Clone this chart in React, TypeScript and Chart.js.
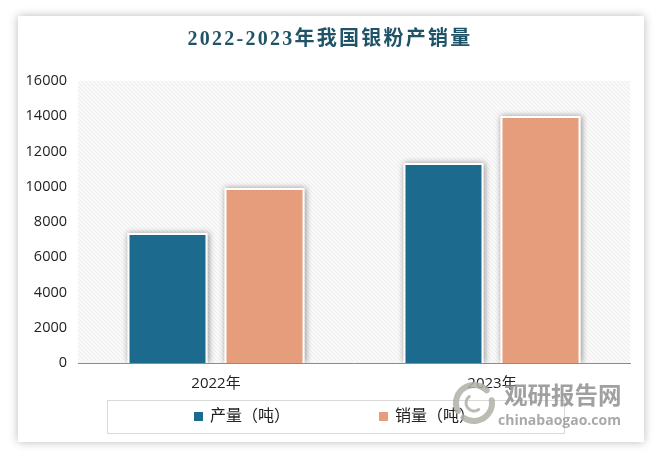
import { useEffect, useRef } from "react"
import { Chart, registerables, type Plugin } from "chart.js"

Chart.register(...registerables)

const years = ["2022年", "2023年"]
const output = [7380, 11350]
const sales = [9930, 14010]
const seriesNames = ["产量（吨）", "销量（吨）"]
const seriesColors = ["#1c6b8f", "#e59d7c"]
const titleText = "2022-2023年我国银粉产销量"
const FONT = '"Open Sans", "Noto Sans CJK SC", sans-serif'

const makeHatch = (ctx: CanvasRenderingContext2D) => {
  const c = document.createElement("canvas")
  c.width = 4
  c.height = 4
  const p = c.getContext("2d")!
  p.fillStyle = "#f9f9f9"
  p.fillRect(0, 0, 4, 4)
  p.strokeStyle = "#eeeeee"
  p.lineWidth = 1
  p.beginPath()
  p.moveTo(0, 0)
  p.lineTo(4, 4)
  p.moveTo(-2, 2)
  p.lineTo(2, 6)
  p.moveTo(2, -2)
  p.lineTo(6, 2)
  p.stroke()
  return ctx.createPattern(c, "repeat")!
}

// card, hatched plot background and the bar shadows
const backdrop: Plugin<"bar"> = {
  id: "backdrop",
  beforeDraw(chart) {
    const { ctx, chartArea: a } = chart
    ctx.save()
    ctx.fillStyle = "#fff"
    ctx.fillRect(0, 0, chart.width, chart.height)
    ctx.shadowColor = "rgba(0,0,0,0.28)"
    ctx.shadowBlur = 9
    ctx.fillRect(18, 16, 626, 426)
    ctx.shadowColor = "transparent"
    ctx.fillStyle = makeHatch(ctx)
    ctx.fillRect(a.left, a.top, a.right - a.left, a.bottom - a.top)
    ctx.restore()
  },
  beforeDatasetsDraw(chart) {
    // shadow goes under the bars, otherwise the fill darkens the white border
    const { ctx, chartArea: a } = chart
    ctx.save()
    ctx.beginPath()
    ctx.rect(a.left, a.top, a.right - a.left, a.bottom - a.top)
    ctx.clip()
    ctx.fillStyle = "#fff"
    ctx.shadowColor = "rgba(0,0,0,0.4)"
    ctx.shadowBlur = 6
    ctx.shadowOffsetX = 1
    chart.data.datasets.forEach((_, i) => {
      chart.getDatasetMeta(i).data.forEach((el: any) => {
        ctx.fillRect(el.x - el.width / 2, el.y, el.width, el.base - el.y)
      })
    })
    ctx.restore()
  },
}

// title with letter spacing, boxed legend, watermark
const overlay: Plugin<"bar"> = {
  id: "overlay",
  afterDraw(chart) {
    const { ctx } = chart
    ctx.save()
    ctx.textBaseline = "middle"

    ctx.fillStyle = "#1f5368"
    ctx.textAlign = "center"
    ctx.font = `bold 20px "Liberation Serif", "Noto Sans CJK SC", serif`
    ;(ctx as any).letterSpacing = "2.25px"
    ctx.fillText(titleText, 330, 40)
    ;(ctx as any).letterSpacing = "0px"

    ctx.strokeStyle = "#d9d9d9"
    ctx.lineWidth = 1
    ctx.strokeRect(107.5, 400.5, 457, 33)
    ctx.textAlign = "left"
    ctx.font = `16px "Noto Sans CJK SC", sans-serif`
    seriesNames.forEach((name, i) => {
      const x = i === 0 ? 194 : 379
      ctx.fillStyle = seriesColors[i]
      ctx.fillRect(x, 412, 9, 9)
      ctx.fillStyle = "#222"
      ctx.fillText(name, x + 16, 415)
    })

    ctx.globalAlpha = 0.85
    ctx.fillStyle = "#8f8f8f"
    ctx.font = `bold 23.5px "Noto Sans CJK SC", sans-serif`
    ctx.fillText("观研报告网", 504, 395)
    ctx.fillStyle = "#9a9a9a"
    ctx.font = `bold 14px "Open Sans", sans-serif`
    ctx.fillText("chinabaogao.com", 498, 421)
    ctx.strokeStyle = "#b0b0a8"
    ctx.lineCap = "round"
    ctx.lineWidth = 6
    ctx.beginPath()
    ctx.arc(474, 403, 18, Math.PI * 0.85, Math.PI * 1.75)
    ctx.stroke()
    ctx.beginPath()
    ctx.arc(474, 403, 18, Math.PI * 1.95, Math.PI * 0.7)
    ctx.stroke()
    ctx.lineWidth = 3
    ctx.beginPath()
    ctx.arc(474, 403, 8, Math.PI * 0.3, Math.PI * 1.3)
    ctx.stroke()
    ctx.restore()
  },
}

export default function App() {
  const canvasRef = useRef<HTMLCanvasElement>(null)

  useEffect(() => {
    if (!canvasRef.current) return
    document.body.style.margin = "0"

    const bar = { borderColor: "#fff", borderWidth: 2, categoryPercentage: 0.703, barPercentage: 0.825 }
    const chart = new Chart(canvasRef.current, {
      type: "bar",
      data: {
        labels: years,
        datasets: [
          { label: seriesNames[0], data: output, backgroundColor: seriesColors[0], ...bar },
          { label: seriesNames[1], data: sales, backgroundColor: seriesColors[1], ...bar },
        ],
      },
      options: {
        animation: false,
        responsive: false,
        layout: { padding: { left: 18, right: 32, top: 81, bottom: 65 } },
        plugins: {
          legend: { display: false },
          title: { display: false },
          tooltip: { enabled: false },
        },
        scales: {
          x: {
            grid: { display: false, drawTicks: false },
            border: { color: "#8c8c8c", width: 1 },
            ticks: { color: "#222", font: { size: 15, family: FONT }, padding: 12 },
            afterFit: (s) => {
              s.height = 30
            },
          },
          y: {
            min: 0,
            max: 16000,
            grid: { display: false, drawTicks: false },
            border: { display: false },
            ticks: {
              stepSize: 2000,
              color: "#222",
              font: { size: 14.5, family: FONT },
              padding: 11,
              callback: (v) => String(v),
            },
            afterFit: (s) => {
              s.width = 60
            },
          },
        },
      },
      plugins: [backdrop, overlay],
    })

    return () => {
      chart.destroy()
    }
  }, [])

  return <canvas ref={canvasRef} width={662} height={458} style={{ display: "block" }} />
}
